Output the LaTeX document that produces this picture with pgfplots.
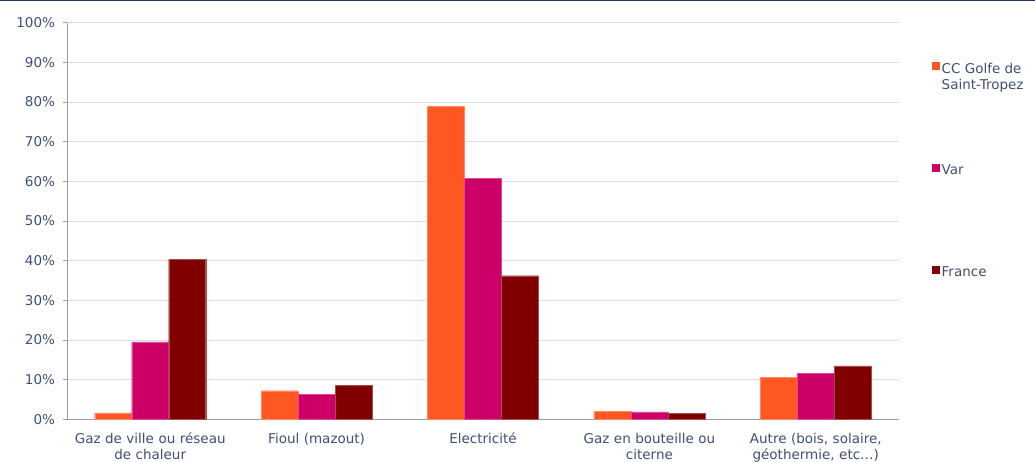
\documentclass[border=0pt]{standalone}
\usepackage{pgfplots}
\pgfplotsset{compat=1.18}
\usepackage{fontspec}
\setmainfont{DejaVu Sans}
\definecolor{cOrange}{HTML}{FF5722}
\definecolor{cMag}{HTML}{CC0066}
\definecolor{cDark}{HTML}{800000}
\definecolor{cText}{HTML}{3F4F72}
\definecolor{cGrid}{HTML}{DCDCDC}
\definecolor{cAxis}{HTML}{9A9CAA}
\definecolor{cNavy}{HTML}{1F3864}
\begin{document}
\fontsize{13}{16}\selectfont
\begin{tikzpicture}[x=1pt,y=1pt]
\path[use as bounding box] (-67,-41.7) rectangle (968,419.3);
\fill[cNavy] (-67,417.8) rectangle (968,419.3);
\begin{axis}[
  at={(0,0)}, anchor=south west,
  scale only axis, width=832pt, height=396.6pt,
  xmin=-0.5, xmax=4.5, ymin=0, ymax=100,
  axis x line*=bottom, axis y line*=left,
  axis line style={cAxis, line width=0.8pt, -},
  tick align=outside,
  major tick length=4pt,
  minor tick length=5pt,
  tick style={cAxis, line width=0.8pt},
  ytick={0,10,...,100},
  yticklabel={\pgfmathprintnumber{\tick}\%},
  /pgf/number format/assume math mode=true,
  ticklabel style={font=\fontsize{13.5}{16}\selectfont, text=cText},
  yticklabel style={xshift=-3.5pt},
  ymajorgrids, grid style={cGrid, line width=0.8pt},
  xtick={0,1,2,3,4},
  xtick style={draw=none},
  minor xtick={-0.5,0.5,1.5,2.5,3.5,4.5},
  xticklabels={{Gaz de ville ou réseau\\de chaleur},{Fioul (mazout)},{Electricité},{Gaz en bouteille ou\\citerne},{Autre (bois, solaire,\\géothermie, etc…)}},
  xticklabel style={text width=180pt, align=center, yshift=-5pt},
  ybar=0pt, bar width=37pt,
  legend style={at={(1,1)}, anchor=north west, xshift=29.5pt, yshift=-36pt,
    draw=none, fill=none, font=\fontsize{13.5}{16}\selectfont, text=cText,
    row sep=86pt},
  legend cell align=left,
  legend image code/.code={\path[#1, draw=none] (0pt,-1pt) rectangle (8pt,7pt);},
]
\addplot[fill=cOrange, draw=cOrange!70!white, line width=0.3pt] coordinates {(0,1.6) (1,7.2) (2,78.9) (3,2.0) (4,10.6)};
\addplot[fill=cMag, draw=cMag!70!white, line width=0.3pt] coordinates {(0,19.5) (1,6.3) (2,60.8) (3,1.9) (4,11.6)};
\addplot[fill=cDark, draw=cDark!70!white, line width=0.3pt] coordinates {(0,40.3) (1,8.5) (2,36.2) (3,1.5) (4,13.5)};
\addlegendentry{\raisebox{0pt}[\height][0pt]{\parbox[t]{100pt}{CC Golfe de\\Saint-Tropez}}}
\addlegendentry{Var}
\addlegendentry{France}
\end{axis}
\end{tikzpicture}
\end{document}
